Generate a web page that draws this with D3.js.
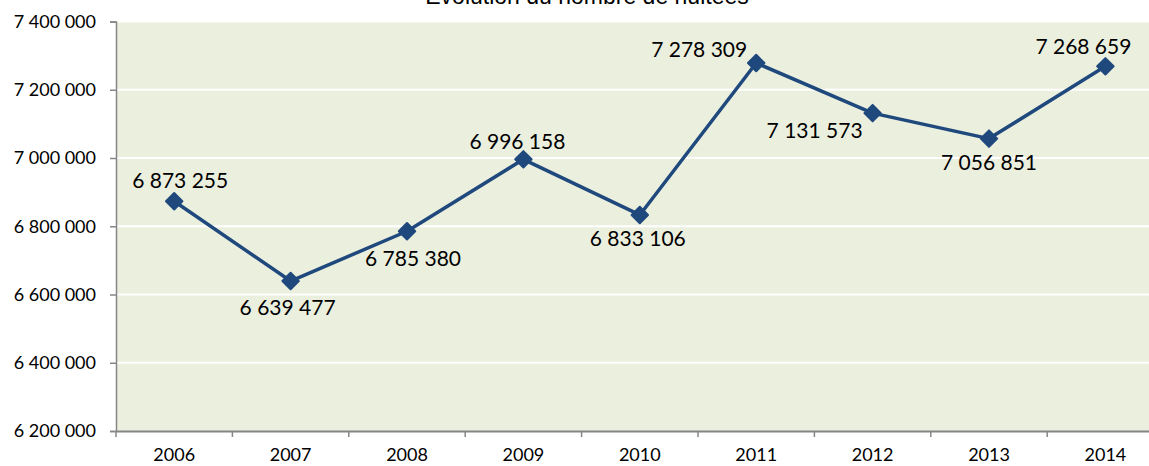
<!DOCTYPE html>
<html>
<head>
<meta charset="utf-8">
<script src="https://cdn.jsdelivr.net/npm/d3@7"></script>
<style>
  html, body { margin: 0; padding: 0; background: #ffffff; }
  svg { display: block; }
</style>
</head>
<body>
<svg id="chart" width="1149" height="466"></svg>
<script>
const title = "Évolution du nombre de nuitées";
const years = ["2006", "2007", "2008", "2009", "2010", "2011", "2012", "2013", "2014"];
const nights = [6873255, 6639477, 6785380, 6996158, 6833106, 7278309, 7131573, 7056851, 7268659];
const yTicks = [6200000, 6400000, 6600000, 6800000, 7000000, 7200000, 7400000];
// label placement relative to each point: [dx, dy] (centre x, baseline)
const labelOffsets = [[6, -13], [-3, 34], [6, 35], [-6, -10], [-2, 31], [-57, -6], [-58, 25], [0, 31], [-22, -12]];

(function () {
const svg = d3.select("#chart");
const pLeft = 116, pRight = 1163.6, pTop = 21.5, pBottom = 431;

const fmt = v => d3.format(",")(v).replace(/,/g, " ");

const x = d3.scaleBand().domain(years).range([pLeft, pRight]).paddingInner(0).paddingOuter(0);
const y = d3.scaleLinear().domain([6200000, 7400000]).range([pBottom, pTop]);

// plot background
svg.append("rect")
  .attr("x", pLeft).attr("y", pTop)
  .attr("width", pRight - pLeft).attr("height", pBottom - pTop)
  .attr("fill", "#ebefde");

// gridlines
svg.append("g").selectAll("line")
  .data(yTicks.slice(1))
  .join("line")
  .attr("x1", pLeft).attr("x2", pRight)
  .attr("y1", d => y(d)).attr("y2", d => y(d))
  .attr("stroke", "#ffffff").attr("stroke-width", 2);

// y axis
const yAxis = d3.axisLeft(y).tickValues(yTicks).tickFormat(fmt).tickSize(6).tickPadding(14);
const gy = svg.append("g").attr("transform", `translate(${pLeft},0)`).call(yAxis);
gy.select(".domain").attr("stroke", "#868686").attr("stroke-width", 1.5);
gy.selectAll(".tick line").attr("stroke", "#868686").attr("stroke-width", 1.5);
gy.selectAll(".tick text")
  .attr("font-family", "Lato, 'Open Sans', sans-serif")
  .attr("font-size", 18).attr("fill", "#000");

// x axis
const xAxis = d3.axisBottom(x).tickSize(0).tickPadding(17);
const gx = svg.append("g").attr("transform", `translate(0,${pBottom})`).call(xAxis);
gx.select(".domain").attr("stroke", "#868686").attr("stroke-width", 2);
gx.selectAll(".tick text")
  .attr("font-family", "Lato, 'Open Sans', sans-serif")
  .attr("font-size", 18).attr("fill", "#000");
// band boundary ticks
gx.append("g").selectAll("line")
  .data(years)
  .join("line")
  .attr("x1", d => x(d)).attr("x2", d => x(d))
  .attr("y1", 0).attr("y2", 6)
  .attr("stroke", "#868686").attr("stroke-width", 1.5);

const cx = d => x(d) + x.bandwidth() / 2;

// line
const line = d3.line().x((d, i) => cx(years[i])).y(d => y(d));
svg.append("path")
  .datum(nights)
  .attr("d", line)
  .attr("fill", "none")
  .attr("stroke", "#1f497d")
  .attr("stroke-width", 3.5)
  .attr("stroke-linejoin", "round");

// markers
svg.append("g").selectAll("path")
  .data(nights)
  .join("path")
  .attr("d", d3.symbol().type(d3.symbolSquare).size(135))
  .attr("transform", (d, i) => `translate(${cx(years[i])},${y(d)}) rotate(45)`)
  .attr("fill", "#1f497d")
  .attr("stroke", "#1f497d")
  .attr("stroke-width", 2)
  .attr("stroke-linejoin", "round");

// data labels
svg.append("g").selectAll("text")
  .data(nights)
  .join("text")
  .attr("x", (d, i) => cx(years[i]) + labelOffsets[i][0])
  .attr("y", (d, i) => y(d) + labelOffsets[i][1])
  .attr("text-anchor", "middle")
  .attr("font-family", "Lato, 'Open Sans', sans-serif")
  .attr("font-size", 21)
  .attr("fill", "#000")
  .text(d => fmt(d));

// title (cut at top)
svg.append("text")
  .attr("x", 587).attr("y", 4)
  .attr("text-anchor", "middle")
  .attr("font-family", "'Liberation Sans', Arial, sans-serif")
  .attr("font-size", 23)
  .attr("fill", "#000")
  .text(title);
})();
</script>
</body>
</html>
